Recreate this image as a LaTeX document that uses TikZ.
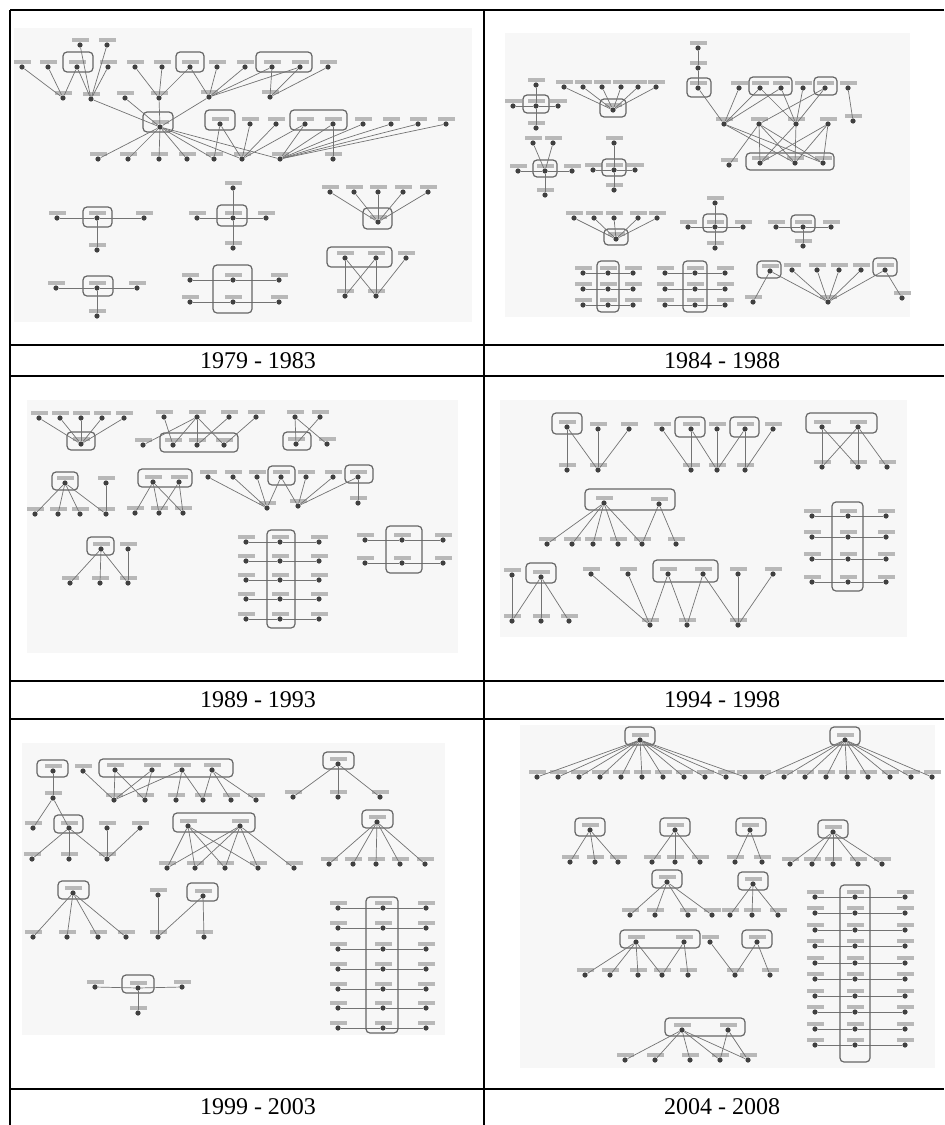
\documentclass[tikz,border=0pt]{standalone}
\usepackage{fontspec}
\setmainfont{Liberation Serif}
\usetikzlibrary{positioning}

\begin{document}
\begin{tikzpicture}[
    x=0.5pt, y=-0.5pt,
    pv/.style={circle, fill=black!75, inner sep=0pt, minimum size=2.6pt, label distance=1.2pt, label={[lbl]above:{}}},
    lbl/.style={fill=black!28, inner sep=0pt, minimum width=8.5pt, minimum height=1.8pt},
    edge/.style={draw=black!55, line width=0.35pt},
    grp/.style={draw=black!60, line width=0.6pt, rounded corners=2pt},
    paper/.style={fill=black!3},
    rule/.style={line width=0.9pt},
    yr/.style={font=\fontsize{12}{14}\selectfont}
]
\useasboundingbox (0,0) rectangle (944,1125);

% table
\draw[rule] (10,10) -- (944,10);
\draw[rule] (10,10) -- (10,1125);
\draw[rule] (484,10) -- (484,1125);
\foreach \y in {345,376,681,719,1089}
  \draw[rule] (10,\y) -- (944,\y);

\node[yr] (cap1) at (258,361) {1979 - 1983};
\node[yr] (cap2) at (722,361) {1984 - 1988};
\node[yr] (cap3) at (258,700) {1989 - 1993};
\node[yr] (cap4) at (722,700) {1994 - 1998};
\node[yr] (cap5) at (258,1107) {1999 - 2003};
\node[yr] (cap6) at (722,1107) {2004 - 2008};

% 1979 - 1983
\fill[paper] (14,28) rectangle (472,322);
\foreach \x [count=\i] in {22,48,77,108,135,162,190,217,245,272,300,328}
  \node[pv] (at\i) at (\x,67) {};
\node[pv] (au1) at (80,45) {};
\node[pv] (au2) at (107,45) {};
\foreach \x/\y [count=\i] in {63/98,91/99,125/98,159/98,209/97,270/97}
  \node[pv] (am\i) at (\x,\y) {};
\node[pv] (ac) at (160,127) {};
\foreach \x [count=\i] in {220,250,276,305,333,363,391,418,446}
  \node[pv] (as\i) at (\x,124) {};
\foreach \x [count=\i] in {98,128,159,187,214,242,280,333}
  \node[pv] (ab\i) at (\x,159) {};
\draw[grp] (63,52) rectangle (93,72) (176,52) rectangle (204,72) (256,52) rectangle (312,72)
  (143,112) rectangle (173,132) (205,110) rectangle (235,130) (290,110) rectangle (347,130);
\foreach \u/\v in {at1/am1,at2/am1,at3/am1,au1/am2,au2/am2,at3/am2,at4/am2,am2/ac,am3/ac,
    at5/am4,at6/am4,at7/am4,am4/ac,at7/am5,at8/am5,at9/am5,at10/am5,at11/am5,am5/ac,
    at10/am6,at11/am6,at12/am6,ac/ab1,ac/ab2,ac/ab3,ac/ab4,ac/ab5,ac/ab6,ac/ab7,
    as1/ab5,as1/ab6,as2/ab6,as3/ab6,as4/ab6,as4/ab7,as5/ab7,as5/ab8,as6/ab7,as7/ab7,as8/ab7,as9/ab7}
  \draw[edge] (\u) -- (\v);

\node[pv] (al1) at (97,218) {};  \node[pv] (al1l) at (57,218) {};
\node[pv] (al1r) at (144,218) {}; \node[pv] (al1b) at (97,250) {};
\node[pv] (al2) at (97,288) {};  \node[pv] (al2l) at (56,288) {};
\node[pv] (al2r) at (137,288) {}; \node[pv] (al2b) at (97,316) {};
\node[pv] (ax) at (233,218) {};  \node[pv] (axl) at (197,218) {};
\node[pv] (axr) at (266,218) {};  \node[pv] (axt) at (233,188) {};
\node[pv] (axb) at (233,248) {};
\foreach \y [count=\i] in {280,302} {
  \node[pv] (ay\i) at (233,\y) {};
  \node[pv] (ayl\i) at (190,\y) {};
  \node[pv] (ayr\i) at (279,\y) {};
  \draw[edge] (ayl\i) -- (ay\i) -- (ayr\i);
}
\foreach \x [count=\i] in {330,354,378,403,428}
  \node[pv] (ar\i) at (\x,192) {};
\node[pv] (arc) at (378,222) {};
\foreach \x [count=\i] in {345,376,406}
  \node[pv] (aq\i) at (\x,258) {};
\node[pv] (aqb1) at (345,296) {};
\node[pv] (aqb2) at (376,296) {};
\draw[grp] (83,207) rectangle (112,227) (83,276) rectangle (113,296) (217,205) rectangle (247,226)
  (213,265) rectangle (252,313) (363,208) rectangle (392,229) (327,247) rectangle (392,267);
\foreach \u/\v in {al1l/al1,al1/al1r,al1/al1b,al2l/al2,al2/al2r,al2/al2b,axl/ax,ax/axr,axt/ax,ax/axb,
    ar1/arc,ar2/arc,ar3/arc,ar4/arc,ar5/arc,aq1/aqb1,aq1/aqb2,aq2/aqb1,aq2/aqb2,aq3/aqb2}
  \draw[edge] (\u) -- (\v);

% 1984 - 1988
\fill[paper] (505,33) rectangle (910,317);
\node[pv] (bp) at (536,106) {};  \node[pv] (bpt) at (536,85) {};
\node[pv] (bpl) at (513,106) {};  \node[pv] (bpr) at (558,106) {};
\node[pv] (bpb) at (536,128) {};
\foreach \x [count=\i] in {564,583,602,621,638,656}
  \node[pv] (bq\i) at (\x,87) {};
\node[pv] (bq) at (613,110) {};
\node[pv] (br) at (545,171) {};  \node[pv] (brt1) at (533,143) {};
\node[pv] (brt2) at (553,143) {}; \node[pv] (brl) at (518,171) {};
\node[pv] (brr) at (572,171) {};  \node[pv] (brb) at (545,195) {};
\node[pv] (bs) at (614,170) {};  \node[pv] (bst) at (614,143) {};
\node[pv] (bsl) at (593,170) {};  \node[pv] (bsr) at (635,170) {};
\node[pv] (bsb) at (614,190) {};
\node[pv] (bh1) at (698,48) {};  \node[pv] (bh2) at (698,68) {};
\node[pv] (bh3) at (698,88) {};
\foreach \x [count=\i] in {739,760,781,803,825,848}
  \node[pv] (bt\i) at (\x,88) {};
\foreach \x/\y [count=\i] in {724/124,759/124,796/124,828/124,853/121}
  \node[pv] (bm\i) at (\x,\y) {};
\node[pv] (bb0) at (729,165) {};
\foreach \x [count=\i] in {760,795,823}
  \node[pv] (bb\i) at (\x,163) {};
\draw[grp] (523,95) rectangle (549,113) (600,99) rectangle (626,117) (533,160) rectangle (557,177)
  (602,159) rectangle (626,176) (687,78) rectangle (711,97) (749,77) rectangle (792,95)
  (814,77) rectangle (837,95) (746,153) rectangle (834,170);
\foreach \u/\v in {bpl/bp,bp/bpr,bpt/bp,bp/bpb,bq1/bq,bq2/bq,bq3/bq,bq4/bq,bq5/bq,bq6/bq,
    brt1/br,brt2/br,brl/br,br/brr,br/brb,bst/bs,bsl/bs,bs/bsr,bs/bsb,
    bh1/bh2,bh2/bh3,bh3/bm1,bt1/bm1,bt2/bm1,bt2/bm3,bt3/bm1,bt3/bm3,bt4/bm3,bt5/bm3,bt5/bm2,bt6/bm5,
    bm1/bb2,bm1/bb3,bm2/bb0,bm2/bb1,bm2/bb2,bm2/bb3,bm3/bb1,bm3/bb2,bm4/bb1,bm4/bb2,bm4/bb3}
  \draw[edge] (\u) -- (\v);

\foreach \x [count=\i] in {574,594,614,638,657}
  \node[pv] (bf\i) at (\x,218) {};
\node[pv] (bf) at (616,239) {};
\node[pv] (bu) at (715,227) {};  \node[pv] (but) at (715,203) {};
\node[pv] (bul) at (688,227) {};  \node[pv] (bur) at (743,227) {};
\node[pv] (bub) at (715,248) {};
\node[pv] (bv) at (803,227) {};  \node[pv] (bvl) at (776,227) {};
\node[pv] (bvr) at (831,227) {};  \node[pv] (bvb) at (803,246) {};
\foreach \y [count=\i] in {273,289,305} {
  \node[pv] (bw\i) at (608,\y) {};
  \node[pv] (bwl\i) at (583,\y) {};
  \node[pv] (bwr\i) at (633,\y) {};
  \draw[edge] (bwl\i) -- (bw\i) -- (bwr\i);
  \node[pv] (bz\i) at (695,\y) {};
  \node[pv] (bzl\i) at (665,\y) {};
  \node[pv] (bzr\i) at (725,\y) {};
  \draw[edge] (bzl\i) -- (bz\i) -- (bzr\i);
}
\node[pv] (bx1) at (770,271) {};
\foreach \x [count=\i] in {792,817,839,861}
  \node[pv] (by\i) at (\x,270) {};
\node[pv] (bx2) at (885,270) {};
\node[pv] (bxb) at (828,302) {};
\node[pv] (bxl) at (753,302) {};
\node[pv] (bxr) at (902,298) {};
\draw[grp] (604,229) rectangle (628,245) (703,214) rectangle (727,232) (791,215) rectangle (815,232)
  (597,261) rectangle (619,312) (683,261) rectangle (707,312) (757,261) rectangle (781,278)
  (873,258) rectangle (897,276);
\foreach \u/\v in {bf1/bf,bf2/bf,bf3/bf,bf4/bf,bf5/bf,bul/bu,bu/bur,but/bu,bu/bub,bvl/bv,bv/bvr,bv/bvb,
    bx1/bxl,bx1/bxb,by1/bxb,by2/bxb,by3/bxb,by4/bxb,bx2/bxb,bx2/bxr}
  \draw[edge] (\u) -- (\v);

% 1989 - 1993
\fill[paper] (27,400) rectangle (458,653);
\foreach \x [count=\i] in {39,60,81,102,124}
  \node[pv] (ca\i) at (\x,418) {};
\node[pv] (ca) at (81,444) {};
\foreach \x [count=\i] in {164,197,229,256}
  \node[pv] (cf\i) at (\x,417) {};
\foreach \x [count=\i] in {143,173,197,224}
  \node[pv] (cg\i) at (\x,445) {};
\node[pv] (ch1) at (295,417) {};  \node[pv] (ch2) at (320,417) {};
\node[pv] (ch) at (296,444) {};   \node[pv] (chr) at (327,444) {};
\node[pv] (ci) at (65,483) {};    \node[pv] (cit) at (106,483) {};
\foreach \x [count=\i] in {35,58,80,106}
  \node[pv] (cib\i) at (\x,514) {};
\node[pv] (cj1) at (153,482) {};  \node[pv] (cj2) at (179,482) {};
\foreach \x [count=\i] in {135,159,183}
  \node[pv] (cjb\i) at (\x,513) {};
\foreach \x [count=\i] in {208,233,257,281,306,333,358}
  \node[pv] (ck\i) at (\x,477) {};
\node[pv] (ckb1) at (267,508) {};
\node[pv] (ckb2) at (298,506) {};
\node[pv] (ckb3) at (358,503) {};
\node[pv] (cl) at (101,549) {};   \node[pv] (clt) at (128,549) {};
\foreach \x [count=\i] in {70,100,128}
  \node[pv] (clb\i) at (\x,583) {};
\foreach \y [count=\i] in {542,561,580,599,619} {
  \node[pv] (cm\i) at (280,\y) {};
  \node[pv] (cml\i) at (246,\y) {};
  \node[pv] (cmr\i) at (319,\y) {};
  \draw[edge] (cml\i) -- (cm\i) -- (cmr\i);
}
\foreach \y [count=\i] in {540,563} {
  \node[pv] (cn\i) at (402,\y) {};
  \node[pv] (cnl\i) at (365,\y) {};
  \node[pv] (cnr\i) at (443,\y) {};
  \draw[edge] (cnl\i) -- (cn\i) -- (cnr\i);
}
\draw[grp] (67,432) rectangle (95,450) (160,433) rectangle (238,452) (283,432) rectangle (311,450)
  (52,472) rectangle (78,490) (138,469) rectangle (192,487) (268,466) rectangle (295,485)
  (345,465) rectangle (373,483) (87,537) rectangle (114,555) (267,530) rectangle (295,628)
  (386,526) rectangle (422,573);
\foreach \u/\v in {ca1/ca,ca2/ca,ca3/ca,ca4/ca,ca5/ca,cf1/cg2,cf2/cg1,cf2/cg2,cf2/cg3,cf2/cg4,cf3/cg3,cf4/cg4,
    ch1/ch,ch1/chr,ch2/ch,ci/cib1,ci/cib2,ci/cib3,ci/cib4,cit/cib4,
    cj1/cjb1,cj1/cjb2,cj1/cjb3,cj2/cjb2,cj2/cjb3,
    ck1/ckb1,ck2/ckb1,ck3/ckb1,ck4/ckb1,ck4/ckb2,ck5/ckb2,ck6/ckb2,ck7/ckb2,ck7/ckb3,
    cl/clb1,cl/clb2,cl/clb3,clt/clb3}
  \draw[edge] (\u) -- (\v);

% 1994 - 1998
\fill[paper] (500,400) rectangle (907,637);
\node[pv] (da1) at (567,427) {};  \node[pv] (da2) at (598,429) {};
\node[pv] (da3) at (629,429) {};
\node[pv] (dab1) at (567,470) {}; \node[pv] (dab2) at (598,470) {};
\foreach \x [count=\i] in {662,691,717,745,773}
  \node[pv] (db\i) at (\x,429) {};
\foreach \x [count=\i] in {691,717,745}
  \node[pv] (dbb\i) at (\x,470) {};
\node[pv] (dc1) at (822,427) {};  \node[pv] (dc2) at (858,427) {};
\foreach \x [count=\i] in {822,858,887}
  \node[pv] (dcb\i) at (\x,467) {};
\node[pv] (dd1) at (604,503) {};  \node[pv] (dd2) at (659,504) {};
\foreach \x [count=\i] in {547,572,593,618,642,676}
  \node[pv] (ddb\i) at (\x,544) {};
\node[pv] (de) at (541,577) {};   \node[pv] (det) at (512,575) {};
\foreach \x [count=\i] in {512,541,569}
  \node[pv] (deb\i) at (\x,621) {};
\foreach \x [count=\i] in {591,628,668,703,738,773}
  \node[pv] (df\i) at (\x,574) {};
\foreach \x [count=\i] in {650,687,738}
  \node[pv] (dfb\i) at (\x,625) {};
\foreach \y [count=\i] in {516,537,559,582} {
  \node[pv] (dg\i) at (848,\y) {};
  \node[pv] (dgl\i) at (812,\y) {};
  \node[pv] (dgr\i) at (886,\y) {};
  \draw[edge] (dgl\i) -- (dg\i) -- (dgr\i);
}
\draw[grp] (552,413) rectangle (582,434) (675,417) rectangle (705,437) (730,417) rectangle (759,437)
  (806,413) rectangle (877,433) (585,489) rectangle (675,510) (526,563) rectangle (556,583)
  (653,560) rectangle (718,582) (832,502) rectangle (863,591);
\foreach \u/\v in {da1/dab1,da1/dab2,da2/dab2,da3/dab2,db1/dbb1,db2/dbb1,db2/dbb2,db3/dbb2,db4/dbb2,db4/dbb3,db5/dbb3,
    dc1/dcb1,dc1/dcb2,dc2/dcb1,dc2/dcb2,dc2/dcb3,dd1/ddb1,dd1/ddb2,dd1/ddb3,dd1/ddb4,dd1/ddb5,dd2/ddb5,dd2/ddb6,
    det/deb1,de/deb1,de/deb2,de/deb3,df1/dfb1,df2/dfb1,df3/dfb1,df3/dfb2,df4/dfb2,df4/dfb3,df5/dfb3,df6/dfb3}
  \draw[edge] (\u) -- (\v);

% 1999 - 2003
\fill[paper] (22,743) rectangle (445,1035);
\node[pv] (ea) at (53,771) {};    \node[pv] (eb) at (83,771) {};
\foreach \x [count=\i] in {115,152,182,212}
  \node[pv] (ec\i) at (\x,770) {};
\node[pv] (eab) at (53,798) {};
\foreach \x [count=\i] in {114,145,176,203,231,256}
  \node[pv] (ed\i) at (\x,800) {};
\node[pv] (ee) at (338,764) {};
\foreach \x [count=\i] in {293,338,380}
  \node[pv] (eeb\i) at (\x,797) {};
\node[pv] (eg) at (69,828) {};    \node[pv] (egl) at (33,828) {};
\node[pv] (egr1) at (107,828) {}; \node[pv] (egr2) at (140,828) {};
\foreach \x [count=\i] in {32,69,107}
  \node[pv] (egb\i) at (\x,859) {};
\node[pv] (eh1) at (188,826) {};  \node[pv] (eh2) at (240,826) {};
\foreach \x [count=\i] in {167,195,225,258,294}
  \node[pv] (ehb\i) at (\x,868) {};
\node[pv] (ei) at (377,822) {};
\foreach \x [count=\i] in {329,353,376,400,425}
  \node[pv] (eib\i) at (\x,864) {};
\node[pv] (ej) at (73,893) {};
\foreach \x [count=\i] in {33,67,98,126}
  \node[pv] (ejb\i) at (\x,937) {};
\node[pv] (ekt) at (158,895) {};  \node[pv] (ek) at (203,896) {};
\node[pv] (ekb1) at (158,937) {}; \node[pv] (ekb2) at (204,937) {};
\node[pv] (el) at (138,988) {};   \node[pv] (ell) at (95,987) {};
\node[pv] (elr) at (182,987) {};  \node[pv] (elb) at (138,1013) {};
\foreach \y [count=\i] in {908,928,949,969,989,1008,1028} {
  \node[pv] (em\i) at (383,\y) {};
  \node[pv] (eml\i) at (338,\y) {};
  \node[pv] (emr\i) at (426,\y) {};
  \draw[edge] (eml\i) -- (em\i) -- (emr\i);
}
\draw[grp] (37,760) rectangle (68,777) (99,759) rectangle (233,777) (323,752) rectangle (354,769)
  (54,815) rectangle (83,833) (173,813) rectangle (255,832) (362,810) rectangle (393,828)
  (58,881) rectangle (89,899) (187,883) rectangle (218,901) (122,975) rectangle (154,993)
  (366,897) rectangle (398,1033);
\foreach \u/\v in {ea/eab,eb/ed1,ec1/ed1,ec1/ed2,ec2/ed1,ec2/ed2,ec3/ed1,ec3/ed3,ec3/ed4,ec4/ed4,ec4/ed5,ec4/ed6,
    ee/eeb1,ee/eeb2,ee/eeb3,eab/egl,eab/eg,eg/egb1,eg/egb2,eg/egb3,egr1/egb3,egr2/egb3,
    eh1/ehb1,eh1/ehb2,eh1/ehb3,eh1/ehb4,eh2/ehb1,eh2/ehb2,eh2/ehb3,eh2/ehb4,eh2/ehb5,
    ei/eib1,ei/eib2,ei/eib3,ei/eib4,ei/eib5,ej/ejb1,ej/ejb2,ej/ejb3,ej/ejb4,
    ekt/ekb1,ek/ekb1,ek/ekb2,ell/el,el/elr,el/elb}
  \draw[edge] (\u) -- (\v);

% 2004 - 2008
\fill[paper] (520,725) rectangle (935,1068);
\node[pv] (fa) at (640,740) {};
\foreach \x [count=\i] in {537,558,579,600,621,642,663,684,705,726,745}
  \node[pv] (fab\i) at (\x,777) {};
\node[pv] (fb) at (845,740) {};
\foreach \x [count=\i] in {762,784,805,826,847,868,890,911,932}
  \node[pv] (fbb\i) at (\x,777) {};
\node[pv] (fc) at (590,830) {};
\foreach \x [count=\i] in {570,595,618}
  \node[pv] (fcb\i) at (\x,862) {};
\node[pv] (fd) at (675,830) {};
\foreach \x [count=\i] in {652,675,700}
  \node[pv] (fdb\i) at (\x,862) {};
\node[pv] (fe) at (750,830) {};
\foreach \x [count=\i] in {735,762}
  \node[pv] (feb\i) at (\x,862) {};
\node[pv] (ff) at (833,832) {};
\foreach \x [count=\i] in {790,812,833,858,882}
  \node[pv] (ffb\i) at (\x,864) {};
\node[pv] (fg) at (667,882) {};
\foreach \x [count=\i] in {630,655,688,712}
  \node[pv] (fgb\i) at (\x,915) {};
\node[pv] (fh) at (753,884) {};
\foreach \x [count=\i] in {730,752,778}
  \node[pv] (fhb\i) at (\x,915) {};
\node[pv] (fi1) at (636,942) {};  \node[pv] (fi2) at (684,942) {};
\node[pv] (fit) at (710,942) {};  \node[pv] (fj) at (757,942) {};
\foreach \x [count=\i] in {585,610,638,662,688}
  \node[pv] (fib\i) at (\x,975) {};
\node[pv] (fjb1) at (735,975) {}; \node[pv] (fjb2) at (770,975) {};
\node[pv] (fk1) at (682,1030) {}; \node[pv] (fk2) at (728,1030) {};
\foreach \x [count=\i] in {625,655,690,720,748}
  \node[pv] (fkb\i) at (\x,1060) {};
\foreach \y [count=\i] in {897,913,930,946,963,979,996,1012,1029,1045} {
  \node[pv] (fm\i) at (855,\y) {};
  \node[pv] (fml\i) at (815,\y) {};
  \node[pv] (fmr\i) at (905,\y) {};
  \draw[edge] (fml\i) -- (fm\i) -- (fmr\i);
}
\draw[grp] (625,727) rectangle (655,745) (830,727) rectangle (860,745) (575,818) rectangle (605,836)
  (660,818) rectangle (690,836) (736,818) rectangle (766,836) (818,820) rectangle (848,838)
  (652,870) rectangle (682,888) (738,872) rectangle (768,890) (620,930) rectangle (700,948)
  (742,930) rectangle (772,948) (665,1018) rectangle (745,1036) (840,885) rectangle (870,1062);
\foreach \i in {1,...,11}
  \draw[edge] (fa) -- (fab\i);
\foreach \i in {1,...,9}
  \draw[edge] (fb) -- (fbb\i);
\foreach \i in {1,...,5} {
  \draw[edge] (ff) -- (ffb\i);
  \draw[edge] (fk1) -- (fkb\i);
}
\foreach \u/\v in {fc/fcb1,fc/fcb2,fc/fcb3,fd/fdb1,fd/fdb2,fd/fdb3,fe/feb1,fe/feb2,
    fg/fgb1,fg/fgb2,fg/fgb3,fg/fgb4,fh/fhb1,fh/fhb2,fh/fhb3,
    fi1/fib1,fi1/fib2,fi1/fib3,fi1/fib4,fi2/fib4,fi2/fib5,fit/fjb1,fj/fjb1,fj/fjb2,
    fk2/fkb4,fk2/fkb5}
  \draw[edge] (\u) -- (\v);
\end{tikzpicture}
\end{document}
